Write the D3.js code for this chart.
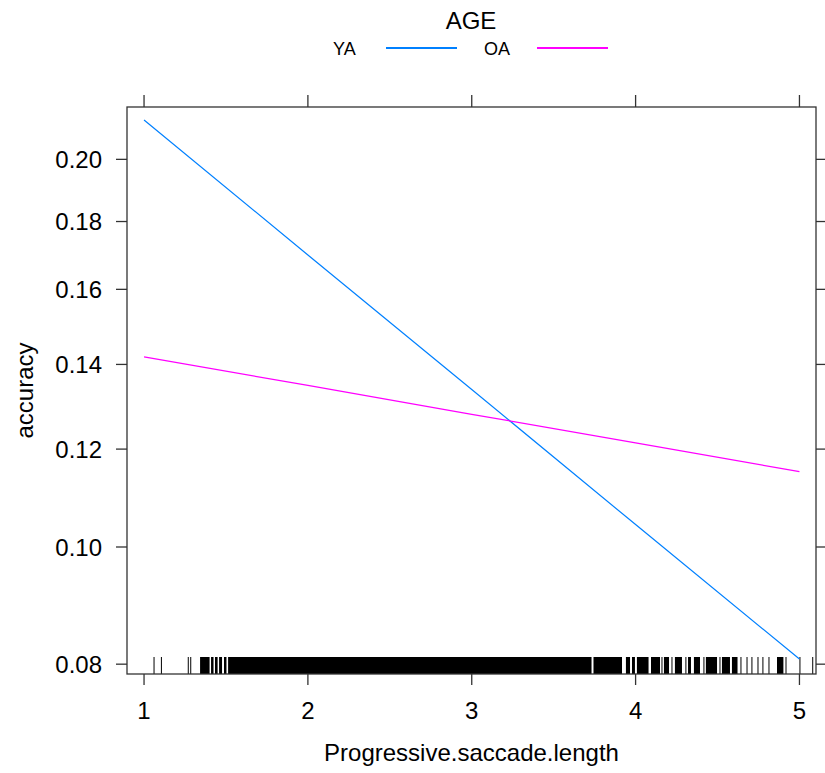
<!DOCTYPE html>
<html>
<head>
<meta charset="utf-8">
<script src="https://cdn.jsdelivr.net/npm/d3@7"></script>
<style>
  body { margin: 0; background: #fff; }
  svg { display: block; font-family: "Liberation Sans", Arial, sans-serif; }
</style>
</head>
<body>
<svg width="825" height="773"></svg>
<script>
const width = 825
const height = 773
const margin = {top: 107, right: 9, bottom: 99, left: 127}

// data
const xValues = [1, 2, 3, 4, 5]
const accYA = [0.2135, 0.1699, 0.1338, 0.1043, 0.0808]
const accOA = [0.1419, 0.1348, 0.1279, 0.1214, 0.1151]
const groups = ["YA", "OA"]
const groupColors = ["#0080ff", "#ff00ff"]
const xTicks = [1, 2, 3, 4, 5]
const yTicks = [0.08, 0.10, 0.12, 0.14, 0.16, 0.18, 0.20]
const xLim = [0.896, 5.101]
const yLim = [0.0785, 0.2181]
// rug of observed saccade lengths: single ticks and solid runs
const rugTicks = [1.061, 1.106, 1.270, 1.285, 4.161, 4.222, 4.307, 4.417, 4.515,
	4.643, 4.680, 4.710, 4.747, 4.777, 4.814, 4.918, 5.003, 5.081]
const rugRuns = [[1.342, 1.400], [1.409, 1.424], [1.433, 1.449], [1.458, 1.476],
	[1.488, 1.503], [1.513, 3.731], [3.743, 3.917], [3.941, 3.966], [3.978, 3.996],
	[4.008, 4.079], [4.094, 4.149], [4.173, 4.204], [4.240, 4.283], [4.320, 4.338],
	[4.356, 4.393], [4.429, 4.497], [4.527, 4.576], [4.588, 4.622], [4.863, 4.902]]

const logit = p => Math.log(p / (1 - p))

const svg = d3.select("svg")
const x0 = margin.left, x1 = width - margin.right
const y0 = margin.top, y1 = height - margin.bottom

const xScale = d3.scaleLinear().domain(xLim).range([x0, x1])
const yLin = d3.scaleLinear().domain(yLim.map(logit)).range([y1, y0])
const yScale = p => yLin(logit(p))

const axisCol = "#333"

// y ticks left (labels) and right
const yAxisL = svg.append("g").attr("id", "yAxisL")
yTicks.forEach(t => {
	yAxisL.append("line")
		.attr("x1", x0 - 11).attr("x2", x0)
		.attr("y1", yScale(t)).attr("y2", yScale(t))
		.style("stroke", axisCol).style("stroke-width", "1.3px")
	yAxisL.append("text")
		.attr("x", x0 - 25).attr("y", yScale(t))
		.attr("dy", "0.36em")
		.attr("text-anchor", "end")
		.style("font-size", "24px")
		.text(d3.format(".2f")(t))
	svg.append("line")
		.attr("x1", x1).attr("x2", x1 + 10)
		.attr("y1", yScale(t)).attr("y2", yScale(t))
		.style("stroke", axisCol).style("stroke-width", "1.3px")
})

// x ticks bottom (labels) and top
const xAxisB = svg.append("g").attr("id", "xAxisB")
xTicks.forEach(t => {
	xAxisB.append("line")
		.attr("x1", xScale(t)).attr("x2", xScale(t))
		.attr("y1", y1).attr("y2", y1 + 11)
		.style("stroke", axisCol).style("stroke-width", "1.3px")
	xAxisB.append("text")
		.attr("x", xScale(t)).attr("y", y1 + 45)
		.attr("text-anchor", "middle")
		.style("font-size", "24px")
		.text(t)
	svg.append("line")
		.attr("x1", xScale(t)).attr("x2", xScale(t))
		.attr("y1", y0 - 12).attr("y2", y0)
		.style("stroke", axisCol).style("stroke-width", "1.3px")
})

// rug
const rug = svg.append("g").attr("id", "rug")
rug.selectAll("rect")
	.data(rugRuns)
	.enter().append("rect")
	.attr("x", d => xScale(d[0]))
	.attr("width", d => xScale(d[1]) - xScale(d[0]))
	.attr("y", y1 - 17).attr("height", 17)
	.style("fill", "#000")
rug.selectAll("line")
	.data(rugTicks)
	.enter().append("line")
	.attr("x1", d => xScale(d)).attr("x2", d => xScale(d))
	.attr("y1", y1 - 17).attr("y2", y1)
	.style("stroke", "#000").style("stroke-width", "1px")

// effect lines
const line = d3.line()
	.x((d, i) => xScale(xValues[i]))
	.y(d => yScale(d))

svg.selectAll("path.effect")
	.data([accYA, accOA])
	.enter().append("path")
	.attr("class", "effect")
	.attr("d", line)
	.style("fill", "none")
	.style("stroke", (d, i) => groupColors[i])
	.style("stroke-width", "1.2px")

// panel box
svg.append("rect")
	.attr("x", x0).attr("y", y0)
	.attr("width", x1 - x0).attr("height", y1 - y0)
	.style("fill", "none")
	.style("stroke", axisCol).style("stroke-width", "1.3px")

// axis titles
svg.append("text")
	.attr("x", (x0 + x1) / 2).attr("y", 761)
	.attr("text-anchor", "middle")
	.style("font-size", "24px")
	.text("Progressive.saccade.length")

svg.append("text")
	.attr("transform", `translate(33, ${(y0 + y1) / 2}) rotate(-90)`)
	.attr("text-anchor", "middle")
	.style("font-size", "24px")
	.text("accuracy")

// legend
svg.append("text")
	.attr("x", 471).attr("y", 29)
	.attr("text-anchor", "middle")
	.style("font-size", "24px")
	.text("AGE")

const legendX = [333, 484]
const legend = svg.selectAll("g.legend")
	.data(groups)
	.enter().append("g")
	.attr("class", "legend")
	.attr("transform", (d, i) => `translate(${legendX[i]}, 48)`)

legend.append("text")
	.attr("x", 0).attr("y", 7)
	.style("font-size", "18px")
	.text(d => d)

legend.append("line")
	.attr("x1", 53).attr("x2", 124)
	.attr("y1", 0).attr("y2", 0)
	.style("stroke", (d, i) => groupColors[i])
	.style("stroke-width", "2px")
</script>
</body>
</html>
